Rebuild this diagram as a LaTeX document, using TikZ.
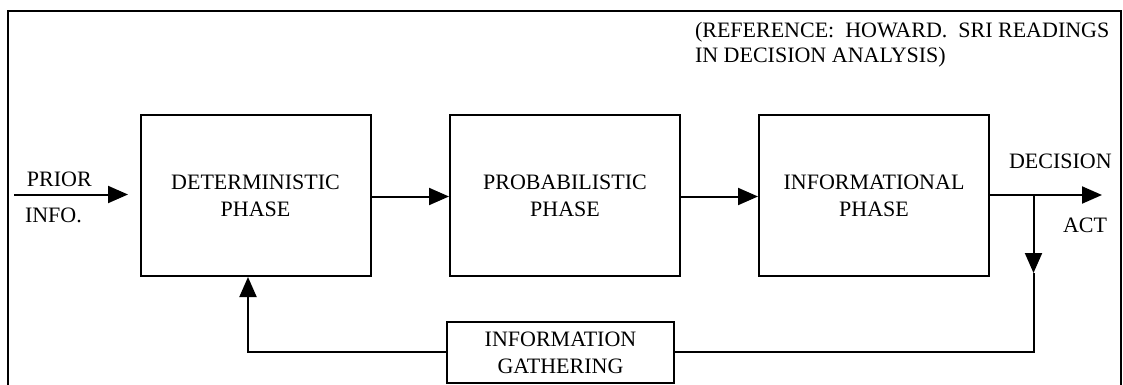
\documentclass[tikz,border=0pt]{standalone}
\usepackage{fontspec}
\setmainfont{Liberation Serif}
\usetikzlibrary{arrows.meta}
\begin{document}
\begin{tikzpicture}[x=1pt,y=-1pt,
  line width=2pt,
  phasebox/.style={draw,minimum width=230pt,minimum height=161pt,align=center,
    inner sep=0pt,font=\fontsize{22}{27}\selectfont},
  gatherbox/.style={draw,minimum width=227pt,minimum height=61pt,align=center,
    inner sep=0pt,font=\fontsize{22}{27}\selectfont},
  lbl/.style={inner sep=0pt,font=\fontsize{22}{25}\selectfont},
  flow/.style={-{Triangle[length=20pt,width=17pt]}},
]
\useasboundingbox (0,0) rectangle (1123,385);
% open frame around the diagram
\draw (7.5,385) -- (7.5,11) -- (1121,11) -- (1121,385);

% phase boxes
\node[phasebox] (det) at (255.5,195.5) {DETERMINISTIC\\PHASE};
\node[phasebox] (prob) at (565,195.5) {PROBABILISTIC\\PHASE};
\node[phasebox] (inf) at (874,195.5) {INFORMATIONAL\\PHASE};
\node[gatherbox] (gath) at (560.5,352.5) {INFORMATION\\GATHERING};

% labels
\node[lbl,anchor=west,align=left] (ref) at (694,45) {(REFERENCE:\ \ HOWARD.\ \ SRI READINGS\\IN DECISION ANALYSIS)};
\node[lbl,anchor=west] (prior) at (26,179) {PRIOR};
\node[lbl,anchor=west] (infol) at (24,215) {INFO.};
\node[lbl,anchor=west] (decl) at (1008,161) {DECISION};
\node[lbl,anchor=west] (actl) at (1062,225) {ACT};

% points on the connectors
\coordinate (pin) at (14,194.5);
\coordinate (pend) at (128,194.5);
\coordinate (out) at (1102,195);
\coordinate (split) at (1033.5,195);
\coordinate (sdown) at (1033.5,273);
\coordinate (scorner) at (1033.5,352);
\coordinate (lcorner) at (248,352);

% forward flow
\draw[flow] (pin) -- (pend);
\draw[flow] (det.east |- 0,196.5) -- (prob.west |- 0,196.5);
\draw[flow] (prob.east |- 0,196.5) -- (inf.west |- 0,196.5);
\draw[flow] (inf.east |- 0,195) -- (out);

% feedback loop
\draw[flow] (split) -- (sdown);
\draw (sdown) -- (scorner) -- (gath.east |- scorner);
\draw[flow] (gath.west |- lcorner) -- (lcorner) -- (det.south -| lcorner);
\end{tikzpicture}
\end{document}
